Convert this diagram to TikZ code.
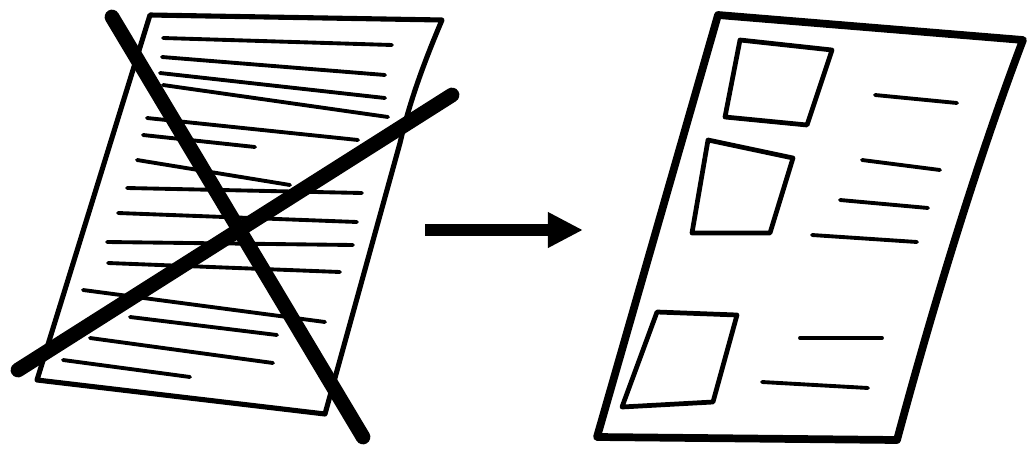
\documentclass[tikz,border=0pt]{standalone}
\usepackage{tikz}
\usetikzlibrary{arrows.meta}

\begin{document}
\begin{tikzpicture}[x=0.02cm, y=-0.02cm,
		pageedge/.style={draw=black, line width=2.9pt, line join=round, line cap=round},
		bigedge/.style={draw=black, line width=4.4pt, line join=round, line cap=round},
		textline/.style={draw=black, line width=2.2pt, line cap=round},
		crossline/.style={draw=black, line width=8.4pt, line cap=round},
		frame/.style={draw=black, line width=2.7pt, line join=round},
		flowarrow/.style={draw=black, line width=6.8pt, -{Triangle[length=20pt, width=19pt]}}]
		\useasboundingbox (0,0) rectangle (1028,450);
		% old page, full of text
		\draw[pageedge] (150,15) -- (442,20) .. controls (425,60) and (410,100) .. (400,143)
			-- (325,414) -- (37,380) -- cycle;
		\foreach \xa/\ya/\xb/\yb in {163/38/392/45, 162/57/385/75, 160/73/385/98,
				163/85/388/117, 147/118/358/140, 143/135/255/147, 137/160/290/185,
				127/188/362/193, 118/213/357/222, 107/242/353/245, 108/263/340/272,
				83/290/325/322, 130/317/277/335, 90/338/273/363, 63/360/190/377}
			\draw[textline] (\xa,\ya) -- (\xb,\yb);
		% crossed out
		\coordinate (crossa) at (112,17);
		\coordinate (crossb) at (363,437);
		\coordinate (crossc) at (18,370);
		\coordinate (crossd) at (452,95);
		\draw[crossline] (crossa) -- (crossb);
		\draw[crossline] (crossc) -- (crossd);
		% arrow
		\coordinate (arrstart) at (425,230);
		\coordinate (arrend) at (583,230);
		\draw[flowarrow] (arrstart) -- (arrend);
		% new page, pictures and short text
		\draw[bigedge] (718,15) -- (1023,40) .. controls (985,140) and (940,280) .. (897,440)
			-- (597,437) -- cycle;
		\draw[frame] (740,40) -- (832,50) -- (807,125) -- (725,117) -- cycle;
		\draw[frame] (708,140) -- (793,158) -- (770,233) -- (692,233) -- cycle;
		\draw[frame] (657,312) -- (737,315) -- (713,402) -- (622,407) -- cycle;
		\foreach \xa/\ya/\xb/\yb in {875/95/957/103, 862/160/940/170, 840/200/928/208,
				812/235/917/242, 800/338/882/338, 762/382/868/388}
			\draw[textline] (\xa,\ya) -- (\xb,\yb);
	\end{tikzpicture}
\end{document}
